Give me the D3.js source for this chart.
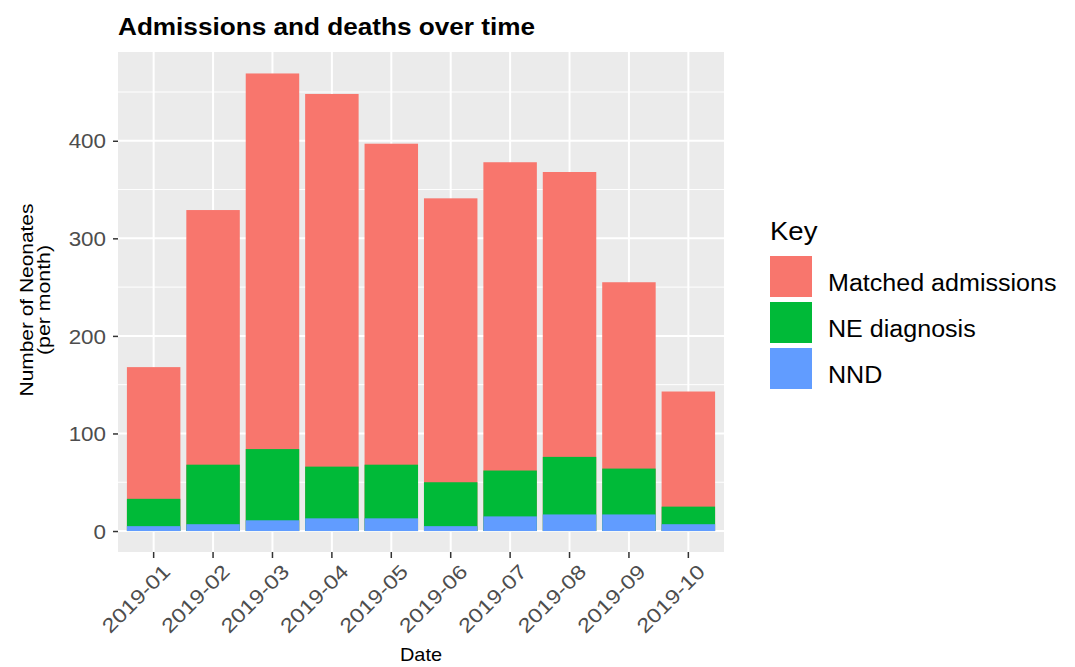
<!DOCTYPE html>
<html>
<head>
<meta charset="utf-8">
<script src="https://cdn.jsdelivr.net/npm/d3@7"></script>
<style>
  html, body { margin: 0; padding: 0; background: #ffffff; }
  svg { display: block; font-family: "Liberation Sans", Arial, sans-serif; }
</style>
</head>
<body>
<svg id="chart" width="1075" height="667"></svg>
<script>
// ---- data ----
const months = ["2019-01","2019-02","2019-03","2019-04","2019-05","2019-06","2019-07","2019-08","2019-09","2019-10"];
const matchedAdmissions = [168, 329, 469, 448, 397, 341, 378, 368, 255, 143];
const neDiagnosis       = [33, 68, 84, 66, 68, 50, 62, 76, 64, 25];
const nnd               = [5, 7, 11, 13, 13, 5, 15, 17, 17, 7];
const seriesNames  = ["Matched admissions", "NE diagnosis", "NND"];
const seriesColors = ["#F8766D", "#00BA38", "#619CFF"];
const yTicks = [0, 100, 200, 300, 400];
const yMinor = [50, 150, 250, 350, 450];

const seriesValues = [matchedAdmissions, neDiagnosis, nnd];

const svg = d3.select("#chart");
const panel = { left: 118, right: 724, top: 52, bottom: 552 };

// helper: widen text slightly (source image text renders wider than Arial metrics)
function stretch(sel, factor) {
  sel.each(function() {
    const len = this.getComputedTextLength();
    d3.select(this).attr("textLength", len * factor).attr("lengthAdjust", "spacingAndGlyphs");
  });
}

const x = d3.scaleBand()
  .domain(months)
  .range([panel.left, panel.right])
  .paddingInner(0.1)
  .paddingOuter(0.15);

const y = d3.scaleLinear()
  .domain([-21.5, 491])
  .range([panel.bottom, panel.top]);

// panel background
svg.append("rect")
  .attr("x", panel.left).attr("y", panel.top)
  .attr("width", panel.right - panel.left).attr("height", panel.bottom - panel.top)
  .attr("fill", "#EBEBEB");

const grid = svg.append("g");
grid.selectAll("line.minor").data(yMinor).join("line")
  .attr("x1", panel.left).attr("x2", panel.right)
  .attr("y1", d => y(d)).attr("y2", d => y(d))
  .attr("stroke", "#ffffff").attr("stroke-width", 1);
grid.selectAll("line.major").data(yTicks).join("line")
  .attr("x1", panel.left).attr("x2", panel.right)
  .attr("y1", d => y(d)).attr("y2", d => y(d))
  .attr("stroke", "#ffffff").attr("stroke-width", 2);
grid.selectAll("line.vmajor").data(months).join("line")
  .attr("x1", d => x(d) + x.bandwidth() / 2).attr("x2", d => x(d) + x.bandwidth() / 2)
  .attr("y1", panel.top).attr("y2", panel.bottom)
  .attr("stroke", "#ffffff").attr("stroke-width", 2);

// bars (overlapping, each from zero)
seriesValues.forEach((vals, si) => {
  svg.append("g").selectAll("rect").data(vals).join("rect")
    .attr("x", (d, i) => x(months[i]))
    .attr("width", x.bandwidth())
    .attr("y", d => y(d))
    .attr("height", d => y(0) - y(d))
    .attr("fill", seriesColors[si]);
});

// y axis
const yAxis = svg.append("g").attr("transform", `translate(${panel.left},0)`)
  .call(d3.axisLeft(y).tickValues(yTicks).tickSize(5).tickPadding(7).tickFormat(d3.format("d")));
yAxis.select(".domain").remove();
yAxis.selectAll(".tick line").attr("stroke", "#333333").attr("stroke-width", 1.5);
yAxis.selectAll(".tick text")
  .attr("fill", "#4D4D4D").attr("font-size", 20).attr("font-family", "Liberation Sans, Arial, sans-serif")
  .attr("dy", "0.36em");
stretch(yAxis.selectAll(".tick text"), 1.12);

// x axis
const xAxis = svg.append("g").attr("transform", `translate(0,${panel.bottom})`)
  .call(d3.axisBottom(x).tickSize(6).tickPadding(4));
xAxis.select(".domain").remove();
xAxis.selectAll(".tick line").attr("stroke", "#333333").attr("stroke-width", 1.5);
xAxis.selectAll(".tick text")
  .attr("fill", "#4D4D4D").attr("font-size", 20).attr("font-family", "Liberation Sans, Arial, sans-serif")
  .attr("text-anchor", "end")
  .attr("y", 0).attr("dy", "0.35em")
  .attr("transform", "translate(13,16) rotate(-45)");
stretch(xAxis.selectAll(".tick text"), 1.18);

// axis titles
const xt = svg.append("text")
  .attr("x", (panel.left + panel.right) / 2).attr("y", 661)
  .attr("text-anchor", "middle").attr("font-size", 19).attr("fill", "#000")
  .text("Date");
stretch(xt, 1.05);

const yt = svg.append("g").attr("transform", "translate(0,300) rotate(-90)");
const yt1 = yt.append("text").attr("x", 0).attr("y", 33)
  .attr("text-anchor", "middle").attr("font-size", 19).attr("fill", "#000")
  .text("Number of Neonates");
const yt2 = yt.append("text").attr("x", 0).attr("y", 50)
  .attr("text-anchor", "middle").attr("font-size", 19).attr("fill", "#000")
  .text("(per month)");
stretch(yt1, 1.1);
stretch(yt2, 1.12);

// title
const title = svg.append("text")
  .attr("x", 118).attr("y", 35)
  .attr("font-size", 23).attr("font-weight", "bold").attr("fill", "#000")
  .attr("textLength", 417).attr("lengthAdjust", "spacingAndGlyphs")
  .text("Admissions and deaths over time");

// legend
const lg = svg.append("g");
const keyT = lg.append("text").attr("x", 770).attr("y", 240)
  .attr("font-size", 25.5).attr("fill", "#000").text("Key");
stretch(keyT, 1.08);
const items = lg.selectAll("g.item").data(seriesNames).join("g")
  .attr("transform", (d, i) => `translate(770,${256 + i * 46})`);
items.append("rect").attr("width", 42).attr("height", 41)
  .attr("fill", (d, i) => seriesColors[i]);
const lt = items.append("text").attr("x", 58).attr("y", 34.5)
  .attr("font-size", 23).attr("fill", "#000").text(d => d);
stretch(lt, 1.09);
</script>
</body>
</html>
